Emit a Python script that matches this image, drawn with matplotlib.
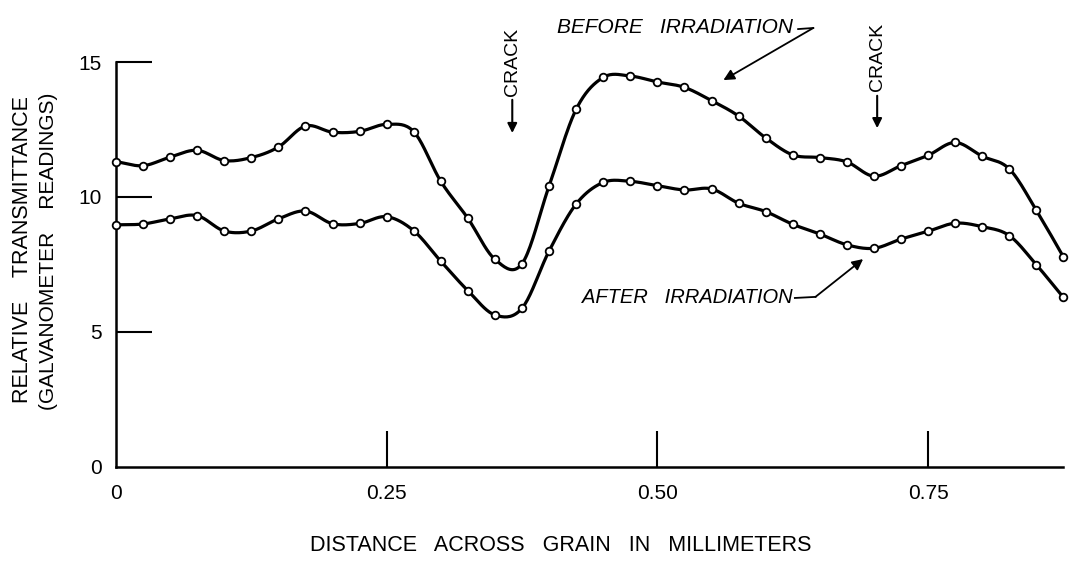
import numpy as np
import matplotlib
matplotlib.use("Agg")
import matplotlib.pyplot as plt

# readings every 0.025 mm across the grain
distance_mm = [0.000, 0.025, 0.050, 0.075, 0.100, 0.125, 0.150, 0.175, 0.200,
               0.225, 0.250, 0.275, 0.300, 0.325, 0.350, 0.375, 0.400, 0.425,
               0.450, 0.475, 0.500, 0.525, 0.550, 0.575, 0.600, 0.625, 0.650,
               0.675, 0.700, 0.725, 0.750, 0.775, 0.800, 0.825, 0.850, 0.875]

before_irr = [11.31, 11.16, 11.48, 11.73, 11.35, 11.46, 11.85, 12.63, 12.40,
              12.43, 12.69, 12.42, 10.58, 9.21, 7.69, 7.53, 10.41, 13.25,
              14.43, 14.48, 14.26, 14.06, 13.57, 13.00, 12.19, 11.56, 11.46,
              11.30, 10.77, 11.16, 11.54, 12.02, 11.51, 11.04, 9.51, 7.78]

after_irr = [8.97, 9.00, 9.19, 9.31, 8.74, 8.74, 9.19, 9.48, 9.01,
             9.02, 9.27, 8.75, 7.62, 6.53, 5.63, 5.88, 8.00, 9.74,
             10.54, 10.58, 10.42, 10.26, 10.30, 9.77, 9.46, 8.99, 8.63,
             8.23, 8.10, 8.44, 8.73, 9.03, 8.90, 8.57, 7.49, 6.28]

x_ticks = [0, 0.25, 0.50, 0.75]
x_tick_labels = ["0", "0.25", "0.50", "0.75"]
y_ticks = [0, 5, 10, 15]

plt.rcParams["font.family"] = ["Liberation Sans", "DejaVu Sans"]


def smooth_curve(x, y, n=20):
    # Catmull-Rom spline through the readings, only for drawing the pen line
    x = np.asarray(x, float)
    y = np.asarray(y, float)
    px = np.concatenate([[2 * x[0] - x[1]], x, [2 * x[-1] - x[-2]]])
    py = np.concatenate([[2 * y[0] - y[1]], y, [2 * y[-1] - y[-2]]])
    t = np.linspace(0, 1, n, endpoint=False)
    xs, ys = [], []
    for i in range(1, len(px) - 2):
        for p, out in ((px, xs), (py, ys)):
            p0, p1, p2, p3 = p[i - 1], p[i], p[i + 1], p[i + 2]
            out.append(0.5 * (2 * p1 + (-p0 + p2) * t
                              + (2 * p0 - 5 * p1 + 4 * p2 - p3) * t ** 2
                              + (-p0 + 3 * p1 - 3 * p2 + p3) * t ** 3))
    xs.append([x[-1]])
    ys.append([y[-1]])
    return np.concatenate(xs), np.concatenate(ys)


fig = plt.figure(figsize=(10.84, 5.72), dpi=100)
ax = fig.add_axes([0.107, 0.1836, 0.874, 0.708])

for series in (before_irr, after_irr):
    sx, sy = smooth_curve(distance_mm, series)
    ax.plot(sx, sy, color="black", linewidth=2.3, clip_on=False, zorder=2)
    ax.plot(distance_mm, series, linestyle="none", marker="o", markersize=5.5,
            markerfacecolor="white", markeredgecolor="black",
            markeredgewidth=1.3, clip_on=False, zorder=3)

ax.set_xlim(0, 0.875)
ax.set_ylim(0, 15)
for side in ("top", "right"):
    ax.spines[side].set_visible(False)
for side in ("left", "bottom"):
    ax.spines[side].set_linewidth(1.8)

ax.set_xticks(x_ticks)
ax.set_xticklabels(x_tick_labels)
ax.set_yticks(y_ticks)
ax.tick_params(axis="both", direction="in", length=26, width=1.5,
               labelsize=15)
ax.tick_params(axis="x", pad=12)
ax.tick_params(axis="y", pad=10)
# no visible tick at the origin
ax.xaxis.get_major_ticks()[0].tick1line.set_visible(False)
ax.yaxis.get_major_ticks()[0].tick1line.set_visible(False)

# axis titles (hand-lettered, widely spaced)
fig.text(0.517, 0.047, "DISTANCE   ACROSS   GRAIN   IN   MILLIMETERS",
         fontsize=15.5, ha="center", va="center")
fig.text(0.021, 0.563, "RELATIVE    TRANSMITTANCE", rotation=90, fontsize=15.5,
         ha="center", va="center")
fig.text(0.045, 0.560, "(GALVANOMETER    READINGS)", rotation=90, fontsize=15,
         ha="center", va="center")

# curve labels with leader arrows
ax.text(0.407, 16.26, "BEFORE   IRRADIATION", fontsize=15, style="italic",
        ha="left", va="center", clip_on=False)
ax.plot([0.630, 0.644], [16.22, 16.26], color="black", linewidth=1.3,
        clip_on=False)
ax.annotate("", xy=(0.561, 14.33), xytext=(0.644, 16.26),
            arrowprops=dict(arrowstyle="-|>", color="black", lw=1.3,
                            mutation_scale=16, shrinkA=0, shrinkB=0),
            annotation_clip=False)

ax.text(0.430, 6.26, "AFTER   IRRADIATION", fontsize=14.5, style="italic",
        ha="left", va="center", clip_on=False)
ax.plot([0.627, 0.646], [6.26, 6.30], color="black", linewidth=1.3,
        clip_on=False)
ax.annotate("", xy=(0.690, 7.70), xytext=(0.646, 6.30),
            arrowprops=dict(arrowstyle="-|>", color="black", lw=1.3,
                            mutation_scale=16, shrinkA=0, shrinkB=0),
            annotation_clip=False)

# crack markers
for cx, ty, a0, a1 in ((0.366, 15.0, 13.6, 12.37), (0.703, 15.2, 13.75, 12.55)):
    ax.text(cx, ty, "CRACK", rotation=90, fontsize=14, ha="center",
            va="center", clip_on=False)
    ax.annotate("", xy=(cx, a1), xytext=(cx, a0),
                arrowprops=dict(arrowstyle="-|>", color="black", lw=1.5,
                                mutation_scale=14, shrinkA=0, shrinkB=0),
                annotation_clip=False)

fig.savefig("out.png", dpi=100)
